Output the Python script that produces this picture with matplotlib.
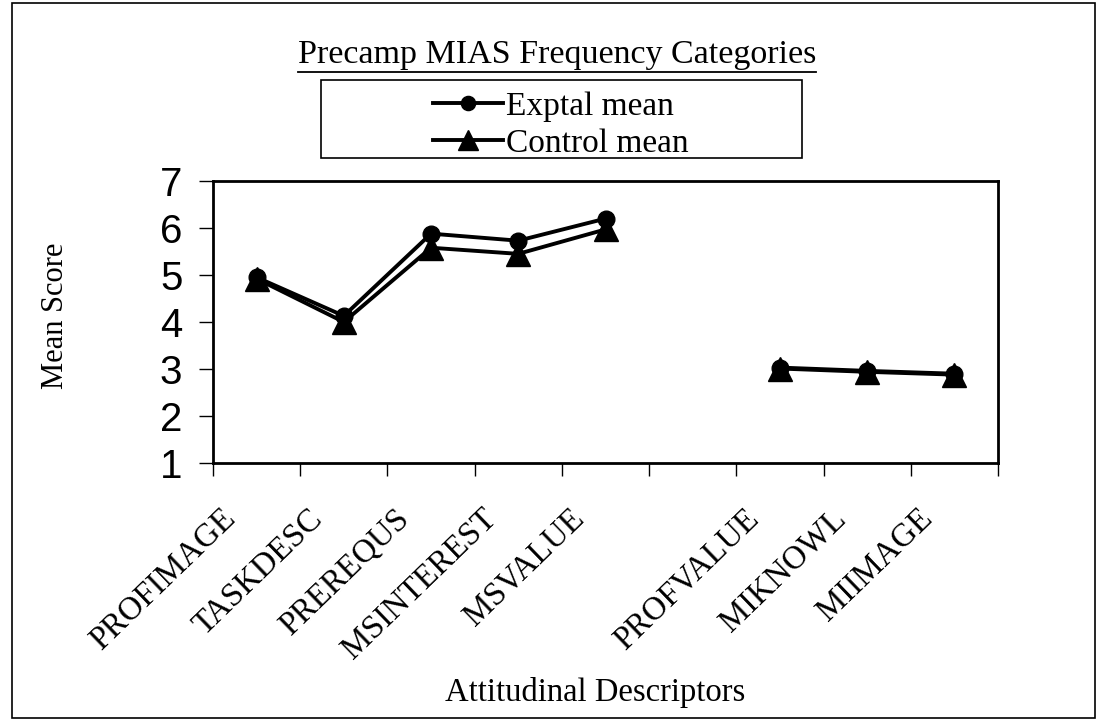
import numpy as np
import matplotlib
matplotlib.use("Agg")
import matplotlib.pyplot as plt
from matplotlib.patches import Rectangle
from matplotlib.lines import Line2D
import matplotlib.transforms as mtrans

categories = ["PROFIMAGE", "TASKDESC", "PREREQUS", "MSINTEREST", "MSVALUE",
              "", "PROFVALUE", "MIKNOWL", "MIIMAGE"]
exptal = [4.95, 4.13, 5.88, 5.73, 6.2, np.nan, 3.03, 2.96, 2.9]
control = [4.92, 4.0, 5.58, 5.45, 5.97, np.nan, 3.01, 2.94, 2.88]
yticks = [1, 2, 3, 4, 5, 6, 7]

serif = "Liberation Serif"
sans = "Liberation Sans"

fig = plt.figure(figsize=(10.97, 7.22), dpi=100)
W, H = 1097, 722
ax = fig.add_axes([213 / W, 1 - 463 / H, (998 - 213) / W, (463 - 181) / H])

x = np.arange(len(categories))
l1, = ax.plot(x, exptal, color="black", lw=2.8, marker="o", ms=12, zorder=3)
l2, = ax.plot(x, control, color="black", lw=2.8, marker="^", ms=17, zorder=4)

ax.set_xlim(-0.5, len(categories) - 0.5)
ax.set_ylim(1, 7)
ax.set_yticks(yticks)
ax.set_yticklabels([str(v) for v in yticks], fontfamily=sans, fontsize=29)
ax.tick_params(axis="y", direction="out", length=10, width=1, pad=12)

# category labels at centres, tick marks at the boundaries
ax.set_xticks(x)
ax.set_xticklabels(categories, fontfamily=serif, fontsize=23.5, rotation=44,
                   ha="right", va="center", rotation_mode="anchor")
ax.tick_params(axis="x", which="major", length=0, pad=37)
ax.set_xticks(np.arange(-0.5, len(categories)), minor=True)
ax.tick_params(axis="x", which="minor", direction="out", length=9, width=1)
off = mtrans.ScaledTranslation(-26 / 100, 0, fig.dpi_scale_trans)
for lab in ax.get_xticklabels():
    lab.set_transform(lab.get_transform() + off)

for s in ax.spines.values():
    s.set_linewidth(2)

ax.set_ylabel("Mean Score", fontfamily=serif, fontsize=22)
ax.yaxis.set_label_coords((70 - 213) / 785, (463 - 316) / 282)
fig.text(595 / W, 1 - 693 / H, "Attitudinal Descriptors", fontfamily=serif,
         fontsize=23.5, ha="center", va="center")

# title with underline
title = fig.text(557 / W, 1 - 63 / H, "Precamp MIAS Frequency Categories",
                 fontfamily=serif, fontsize=24.5, ha="center", va="baseline")

# legend box
fig.patches.append(Rectangle((321 / W, 1 - 158 / H), (802 - 321) / W, (158 - 80) / H,
                             transform=fig.transFigure, fill=False,
                             edgecolor="black", lw=1.2))
leg = fig.legend([l1, l2], ["Exptal mean", "Control mean"], loc="center left",
                 bbox_to_anchor=(433 / W, 1 - 125 / H), frameon=False,
                 prop={"family": serif, "size": 24}, handlelength=2.1,
                 handletextpad=0.1, labelspacing=0.2, borderpad=0,
                 borderaxespad=0, markerscale=0.85)

# outer frame
fig.patches.append(Rectangle((12 / W, 1 - 718 / H), (1095 - 12) / W, (718 - 3) / H,
                             transform=fig.transFigure, fill=False,
                             edgecolor="black", lw=1.2))

fig.canvas.draw()
bb = title.get_window_extent()
yl = bb.y0 + 1
fig.add_artist(Line2D([bb.x0 / W, bb.x1 / W], [yl / H - 0.004, yl / H - 0.004],
                      transform=fig.transFigure, color="black", lw=1.3))

fig.savefig("out.png", dpi=100)
